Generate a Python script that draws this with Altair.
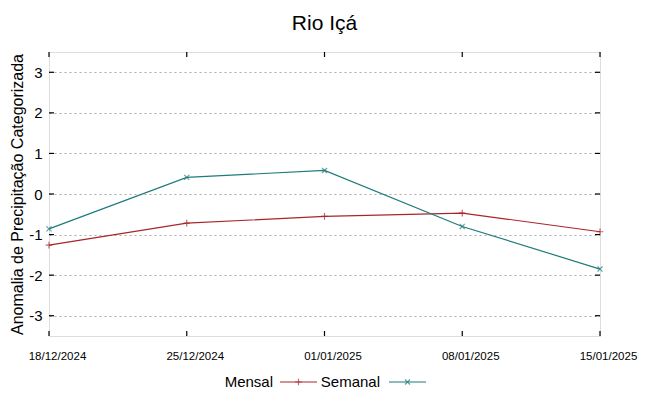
import altair as alt
import pandas as pd

dates = ["18/12/2024", "25/12/2024", "01/01/2025", "08/01/2025", "15/01/2025"]
mensal = [-1.26, -0.72, -0.55, -0.47, -0.93]
semanal = [-0.86, 0.41, 0.58, -0.80, -1.85]
series_names = ["Mensal", "Semanal"]
colors = ["#a8262a", "#1f7b7b"]
y_ticks = [-3, -2, -1, 0, 1, 2, 3]

W, H = 551, 284

rows = []
for d, m, s in zip(dates, mensal, semanal):
    rows.append({"date": d, "series": "Mensal", "value": m})
    rows.append({"date": d, "series": "Semanal", "value": s})
df = pd.DataFrame(rows)

plus_path = "M-1,0L1,0M0,-1L0,1"
x_path = "M-0.75,-0.75L0.75,0.75M-0.75,0.75L0.75,-0.75"
shapes = [plus_path, x_path]

xscale = alt.Scale(type="point", domain=dates, padding=0)
yscale = alt.Scale(domain=[-3.5, 3.5], nice=False, zero=False)

x_enc = alt.X("date:N", scale=xscale, sort=dates, title=None,
              axis=alt.Axis(labelAngle=0, ticks=False, domain=False, grid=False,
                            labelFont="Liberation Sans", labelFontSize=11.5,
                            labelColor="#000", labelPadding=14, labelOffset=8))
y_enc = alt.Y("value:Q", scale=yscale,
              title="Anomalia de Precipitação Categorizada",
              axis=alt.Axis(values=y_ticks, ticks=False, domain=False, grid=True,
                            gridColor="#aaaaaa", gridDash=[2, 3], gridWidth=1,
                            labelExpr="'' + datum.value",
                            labelFont="Liberation Sans", labelFontSize=15,
                            labelColor="#000", labelPadding=7,
                            titleFont="Liberation Sans", titleFontSize=16,
                            titleFontWeight="normal", titleColor="#000",
                            titlePadding=3))

layers = []
for name, col, shp in zip(series_names, colors, shapes):
    sub = df[df["series"] == name]
    base = alt.Chart(sub)
    layers.append(base.mark_line(color=col, strokeWidth=1.2).encode(x=x_enc, y=y_enc))
    layers.append(base.mark_point(shape=shp, color=col, filled=False, size=45,
                                  strokeWidth=1.2).encode(x=x_enc, y=y_enc))

# inward mirrored ticks
ytick_df = pd.DataFrame({"value": y_ticks})
yt = alt.Chart(ytick_df)
layers.append(yt.mark_rule(color="#000", strokeWidth=1.2).encode(
    y=alt.Y("value:Q", scale=yscale), x=alt.value(0), x2=alt.value(5)))
layers.append(yt.mark_rule(color="#000", strokeWidth=1.2).encode(
    y=alt.Y("value:Q", scale=yscale), x=alt.value(W - 5), x2=alt.value(W)))
xtick_df = pd.DataFrame({"date": dates})
xt = alt.Chart(xtick_df)
layers.append(xt.mark_rule(color="#000", strokeWidth=1.2).encode(
    x=alt.X("date:N", scale=xscale, sort=dates), y=alt.value(H - 5), y2=alt.value(H)))
layers.append(xt.mark_rule(color="#000", strokeWidth=1.2).encode(
    x=alt.X("date:N", scale=xscale, sort=dates), y=alt.value(0), y2=alt.value(5)))

# manual legend (label left of sample)
leg_y = 330
leg_text_right = [224, 331]
leg_line = [(231, 268), (340, 377)]
for name, col, shp, tx, (l0, l1) in zip(series_names, colors, shapes, leg_text_right, leg_line):
    ld = alt.Chart(pd.DataFrame({"label": [name]}))
    layers.append(ld.mark_text(align="right", baseline="middle", font="Liberation Sans",
                               fontSize=15, color="#000").encode(
        text="label:N", x=alt.value(tx), y=alt.value(leg_y)))
    layers.append(ld.mark_rule(color=col, strokeWidth=1.2).encode(
        x=alt.value(l0), x2=alt.value(l1), y=alt.value(leg_y)))
    layers.append(ld.mark_point(shape=shp, color=col, filled=False, size=45,
                                strokeWidth=1.2).encode(
        x=alt.value((l0 + l1) / 2), y=alt.value(leg_y)))

chart = alt.layer(*layers).properties(
    width=W, height=H,
    title=alt.TitleParams("Rio Içá", font="Liberation Sans", fontSize=21,
                          fontWeight="normal", color="#000", offset=17),
    autosize=alt.AutoSizeParams(type="none"),
    padding={"left": 41, "top": 44, "right": 40, "bottom": 60},
).configure_view(stroke="#777777", strokeWidth=1.5).configure(background="white")

chart.save("out.html", embed_options={"renderer": "svg", "actions": False})
